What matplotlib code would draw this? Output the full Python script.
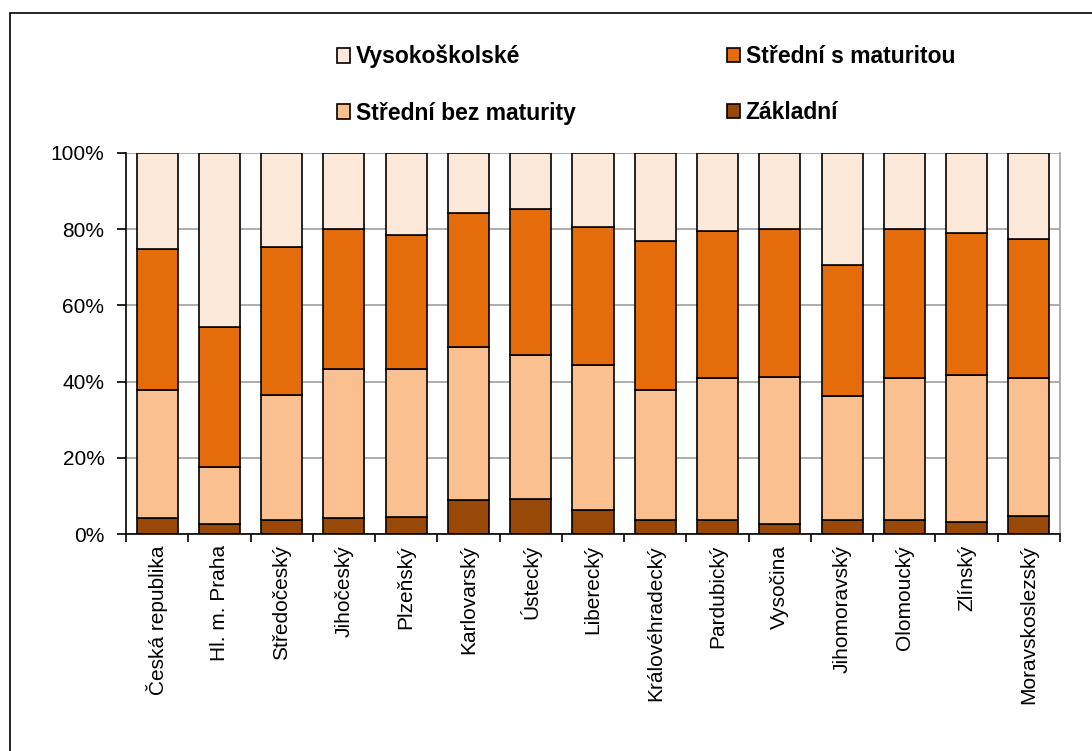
import matplotlib.pyplot as plt
import matplotlib.patches as mpatches
import numpy as np

plt.rcParams['font.family'] = ['Liberation Sans', 'DejaVu Sans']

regions = ["Česká republika", "Hl. m. Praha", "Středočeský", "Jihočeský",
           "Plzeňský", "Karlovarský", "Ústecký", "Liberecký",
           "Královéhradecký", "Pardubický", "Vysočina", "Jihomoravský",
           "Olomoucký", "Zlínský", "Moravskoslezský"]

# shares in %
zakladni = [4.1, 2.5, 3.8, 4.1, 4.5, 8.8, 9.3, 6.3, 3.7, 3.7, 2.6, 3.7, 3.7, 3.1, 4.6]
stredni_bez = [33.6, 15.2, 32.8, 39.3, 38.9, 40.4, 37.8, 38.1, 34.0, 37.2, 38.7, 32.4, 37.2, 38.7, 36.3]
stredni_s = [37.2, 36.7, 38.7, 36.7, 35.1, 35.1, 38.2, 36.2, 39.3, 38.7, 38.8, 34.5, 39.2, 37.1, 36.5]
vysokoskolske = [25.1, 45.6, 24.7, 19.9, 21.5, 15.7, 14.7, 19.4, 23.0, 20.4, 19.9, 29.4, 19.9, 21.1, 22.6]

series = [("Základní", zakladni, "#984807"),
          ("Střední bez maturity", stredni_bez, "#FAC090"),
          ("Střední s maturitou", stredni_s, "#E46C0A"),
          ("Vysokoškolské", vysokoskolske, "#FDE9D9")]

fig = plt.figure(figsize=(10.92, 7.51), dpi=100)
ax = fig.add_axes([126/1092, 1 - 534/751, (1060 - 126)/1092, (534 - 153)/751])

# outer frame (only left/top visible in the original)
fig.patches.append(mpatches.Rectangle((10/1092, -0.05), 1.1, 1 - 13/751 + 0.05,
                                      transform=fig.transFigure, fill=False,
                                      edgecolor="black", linewidth=1.2))

x = np.arange(len(regions))
bottom = np.zeros(len(regions))
handles = {}
for name, vals, color in series:
    vals = np.array(vals)
    bars = ax.bar(x, vals, 0.66, bottom=bottom, color=color,
                  edgecolor="black", linewidth=1.2, zorder=3)
    handles[name] = bars
    bottom += vals

ax.set_xlim(-0.5, len(regions) - 0.5)
ax.set_ylim(0, 100)
ax.set_yticks(np.arange(0, 101, 20))
ax.set_yticklabels([f"{v}%" for v in range(0, 101, 20)], fontsize=15)
ax.yaxis.grid(True, color="#A0A0A0", linewidth=1.2, zorder=0)

ax.set_xticks(x)
ax.set_xticklabels(regions, rotation=90, fontsize=15)
ax.set_xticks(np.arange(-0.5, len(regions), 1), minor=True)
ax.tick_params(axis="x", which="major", length=0, pad=8)
ax.tick_params(axis="x", which="minor", length=6, width=1.2, direction="out")
ax.tick_params(axis="y", length=6.5, width=1.2, direction="out", pad=9)

for s in ["left", "bottom"]:
    ax.spines[s].set_linewidth(1.2)
    ax.spines[s].set_zorder(4)
ax.spines["top"].set_visible(False)
ax.spines["right"].set_color("#A0A0A0")
ax.spines["right"].set_linewidth(1.2)

# legend: two columns placed separately
leg_kw = dict(loc="upper left", frameon=False,
              prop={"weight": "bold", "size": 16.5},
              handlelength=0.57, handleheight=0.6, handletextpad=0.25,
              labelspacing=1.45, borderpad=0, borderaxespad=0)
col1 = ["Vysokoškolské", "Střední bez maturity"]
col2 = ["Střední s maturitou", "Základní"]
fig.legend([handles[n] for n in col1], col1,
           bbox_to_anchor=(337/1092, 1 - 45/751), **leg_kw)
fig.legend([handles[n] for n in col2], col2,
           bbox_to_anchor=(727/1092, 1 - 45/751), **leg_kw)

fig.savefig("out.png", dpi=100)
